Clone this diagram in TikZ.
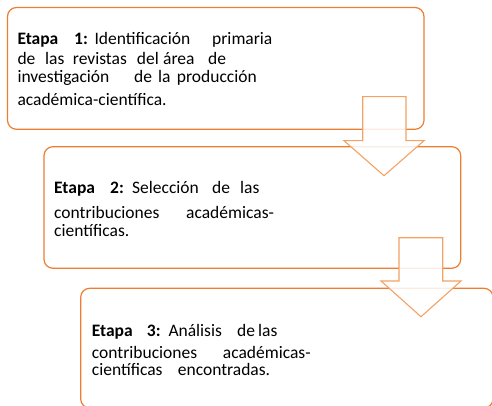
\documentclass[tikz,border=0pt]{standalone}
\usepackage{fontspec}
\setmainfont{Carlito}
\definecolor{boxor}{HTML}{ED7D31}
\definecolor{arrowor}{HTML}{F4A263}
\begin{document}
\begin{tikzpicture}[x=1pt,y=-1pt,
  boxst/.style={draw=boxor,line width=1.2pt,rounded corners=9pt},
  arrowst/.style={draw=arrowor,line width=1.1pt,fill=white,fill opacity=0.85,line join=miter},
  w/.style={anchor=base west,inner sep=0pt,text height=9pt,text depth=2pt,font=\fontsize{17.5}{20}\selectfont},
  wb/.style={w,font=\fontsize{17.5}{20}\selectfont\bfseries}]
\useasboundingbox (0,0) rectangle (492,406);
\begin{scope}
\clip (0,0) rectangle (492,406);
% boxes
\draw[boxst] (7.5,7.5) rectangle (424,129.3);
\draw[boxst] (44,146.7) rectangle (460.7,268.3);
\draw[boxst] (80.7,288.3) rectangle (493,408);
% arrows
\draw[arrowst] (362.7,96.7) -- (406,96.7) -- (406,140.7) -- (424,140.7) -- (384,175.7) -- (344,140.7) -- (362.7,140.7) -- cycle;
\draw[arrowst] (399,237.7) -- (442.7,237.7) -- (442.7,281) -- (461,281) -- (421,316.7) -- (381,281) -- (399,281) -- cycle;
\end{scope}
% text box 1
\node[wb] (t1a) at (17.3,44.3) {Etapa};
\node[wb] (t1b) at (74,44.3) {1:};
\node[w] (t1c) at (94.3,44.3) {Identificación};
\node[w] (t1d) at (212,44.3) {primaria};
\node[w] (t1e) at (17.3,65) {de};
\node[w] (t1f) at (45,65) {las};
\node[w] (t1g) at (72.7,65) {revistas};
\node[w] (t1h) at (136.7,65) {del};
\node[w] (t1i) at (163,65) {área};
\node[w] (t1j) at (208,65) {de};
\node[w] (t1k) at (17.3,82.3) {investigación};
\node[w] (t1l) at (134,82.3) {de};
\node[w] (t1m) at (158,82.3) {la};
\node[w] (t1n) at (176.7,82.3) {producción};
\node[w] (t1o) at (17.3,106) {académica-científica.};
% text box 2
\node[wb] (t2a) at (54,193.3) {Etapa};
\node[wb] (t2b) at (110,193.3) {2:};
\node[w] (t2c) at (132,193.3) {Selección};
\node[w] (t2d) at (212,193.3) {de};
\node[w] (t2e) at (240,193.3) {las};
\node[w] (t2f) at (54,218.5) {contribuciones};
\node[w] (t2g) at (186,218.5) {académicas-};
\node[w] (t2h) at (54,236) {científicas.};
% text box 3
\node[wb] (t3a) at (91.7,336) {Etapa};
\node[wb] (t3b) at (146.7,336) {3:};
\node[w] (t3c) at (168.3,336) {Análisis};
\node[w] (t3d) at (237,336) {de};
\node[w] (t3e) at (258,336) {las};
\node[w] (t3f) at (91.7,358.3) {contribuciones};
\node[w] (t3g) at (222.7,358.3) {académicas-};
\node[w] (t3h) at (91.7,375.7) {científicas};
\node[w] (t3i) at (177.7,375.7) {encontradas.};
\end{tikzpicture}
\end{document}
